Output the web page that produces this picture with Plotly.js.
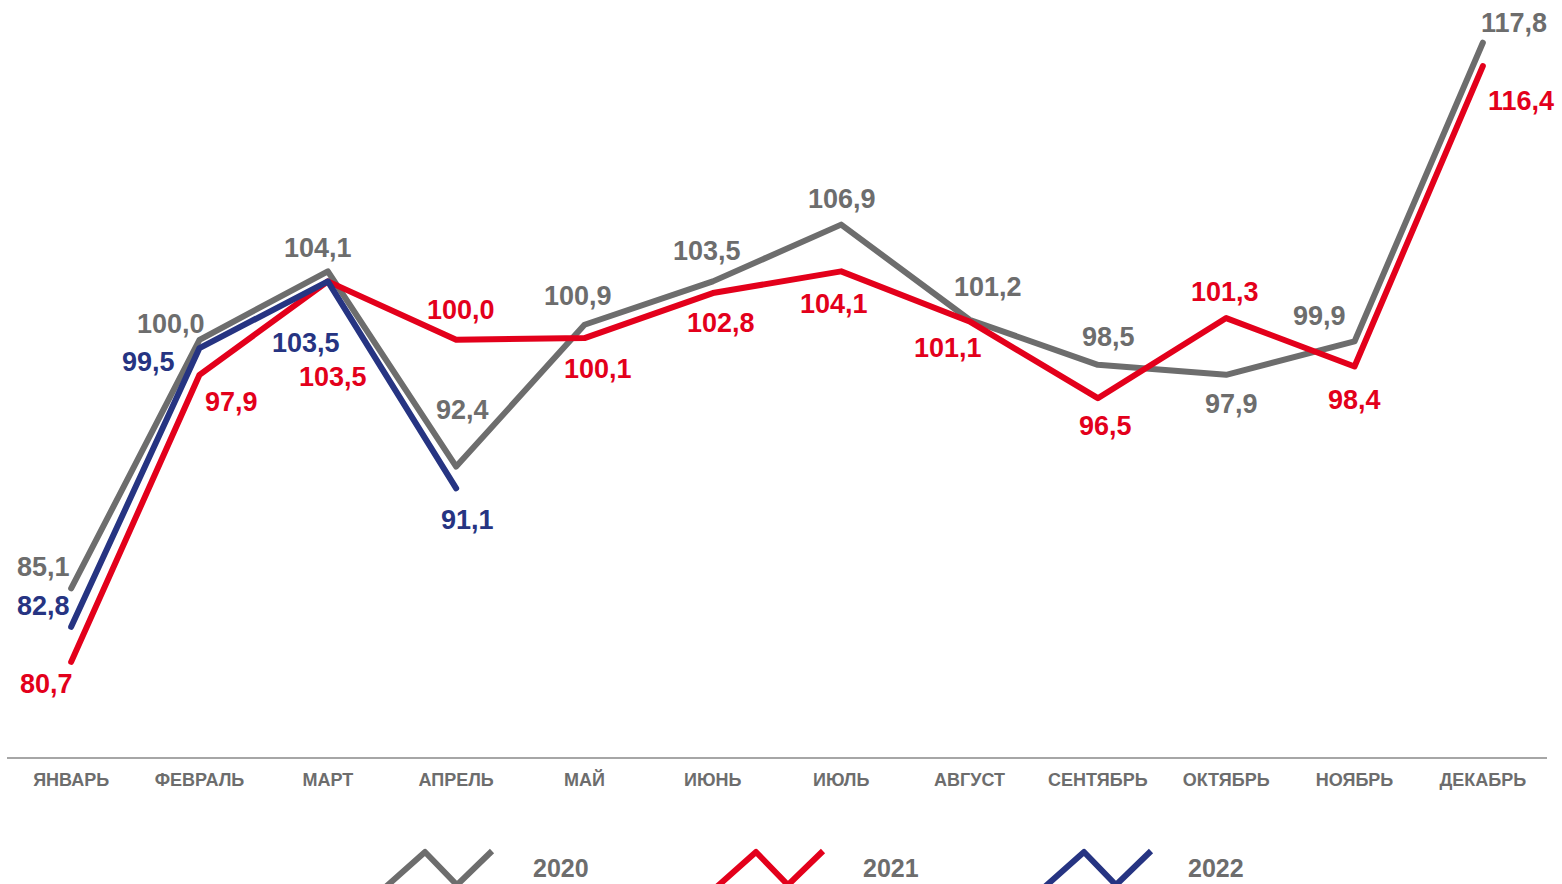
<!DOCTYPE html>
<html>
<head>
<meta charset="utf-8">
<script src="https://cdn.plot.ly/plotly-3.0.1.min.js"></script>
<style>
html,body{margin:0;padding:0;background:#fff;}
#chart{width:1562px;height:884px;}
#chart .scatterlayer path.js-line{stroke-linecap:round;stroke-linejoin:round;}
#chart .layer-above path{stroke-linejoin:round;}
</style>
</head>
<body>
<div id="chart"></div>
<script>
// ---- data ----
const months = ["ЯНВАРЬ","ФЕВРАЛЬ","МАРТ","АПРЕЛЬ","МАЙ","ИЮНЬ","ИЮЛЬ","АВГУСТ","СЕНТЯБРЬ","ОКТЯБРЬ","НОЯБРЬ","ДЕКАБРЬ"];
const seriesNames = ["2020","2021","2022"];
const values2020 = [85.1,100.0,104.1,92.4,100.9,103.5,106.9,101.2,98.5,97.9,99.9,117.8];
const values2021 = [80.7,97.9,103.5,100.0,100.1,102.8,104.1,101.1,96.5,101.3,98.4,116.4];
const values2022 = [82.8,99.5,103.5,91.1];

// ---- styles / label placement (pixel offsets from each point) ----
const colors = ["#6d6d6d","#e3001b","#263482"];
const labelOffsets = [
  [[-28,-21],[-29,-16],[-10,-23],[6,-57],[-7,-29],[-6,-30],[1,-26],[18,-33],[11,-28],[5,29],[-35,-25],[31,-20]],
  [[-25,22],[32,27],[5,96],[5,-30],[13,31],[8,30],[-7,33],[-22,27],[8,28],[-1,-26],[0,34],[38,35]],
  [[-28,-21],[-51,14],[-22,62],[11,32]]
];
const allValues = [values2020, values2021, values2022];

const fmt = v => v.toFixed(1).replace(".", ",");
const FONT = "'Liberation Sans', Arial, sans-serif";

const traces = allValues.map((vals, s) => ({
  type: "scatter",
  mode: "lines",
  x: months.slice(0, vals.length),
  y: vals,
  name: seriesNames[s],
  line: {color: colors[s], width: 6, shape: "linear"},
  cliponaxis: false,
  hoverinfo: "skip"
}));

const annotations = [];
allValues.forEach((vals, s) => {
  vals.forEach((v, i) => {
    const off = labelOffsets[s][i];
    annotations.push({
      x: months[i], y: v, xref: "x", yref: "y",
      text: fmt(v), showarrow: false,
      xshift: off[0], yshift: -off[1],
      xanchor: "center", yanchor: "middle",
      font: {family: FONT, size: 27, color: colors[s], weight: "bold"}
    });
  });
});

// ---- legend drawn manually (zigzag icons) ----
const W = 1562, H = 884;
const mL = 7, mR = 15, mT = 6, mB = 127;
const pw = W - mL - mR, ph = H - mT - mB;
const px2x = px => (px - mL) / pw;
const py2y = py => (H - mB - py) / ph;
const legendStarts = [389, 720, 1048];
const legendTextX = [531, 861, 1186];
const shapes = [];
legendStarts.forEach((p, s) => {
  const pts = [[p - 9, 892], [p + 36, 852], [p + 68, 885], [p + 103, 851]];
  const path = pts.map((q, k) => (k ? "L" : "M") + px2x(q[0]).toFixed(5) + "," + py2y(q[1]).toFixed(5)).join(" ");
  shapes.push({type: "path", xref: "paper", yref: "paper", path: path,
    line: {color: colors[s], width: 6}});
  annotations.push({
    xref: "paper", yref: "paper", x: px2x(legendTextX[s]), y: py2y(868),
    xanchor: "left", yanchor: "middle", showarrow: false,
    text: seriesNames[s],
    font: {family: FONT, size: 25, color: "#6d6d6d", weight: "bold"}
  });
});

const layout = {
  width: W, height: H,
  margin: {l: mL, r: mR, t: mT, b: mB},
  paper_bgcolor: "#ffffff", plot_bgcolor: "#ffffff",
  showlegend: false,
  xaxis: {
    type: "category", categoryorder: "array", categoryarray: months,
    range: [-0.5, 11.5], showgrid: false, zeroline: false,
    showline: true, linecolor: "#a6a6a6", linewidth: 1.5,
    ticks: "", ticklabelstandoff: 6,
    tickfont: {family: FONT, size: 18, color: "#6d6d6d", weight: "bold"}
  },
  yaxis: {
    range: [75, 120], visible: false, showgrid: false, zeroline: false, fixedrange: true
  },
  annotations: annotations,
  shapes: shapes
};

Plotly.newPlot("chart", traces, layout, {displayModeBar: false, staticPlot: true});
</script>
</body>
</html>
